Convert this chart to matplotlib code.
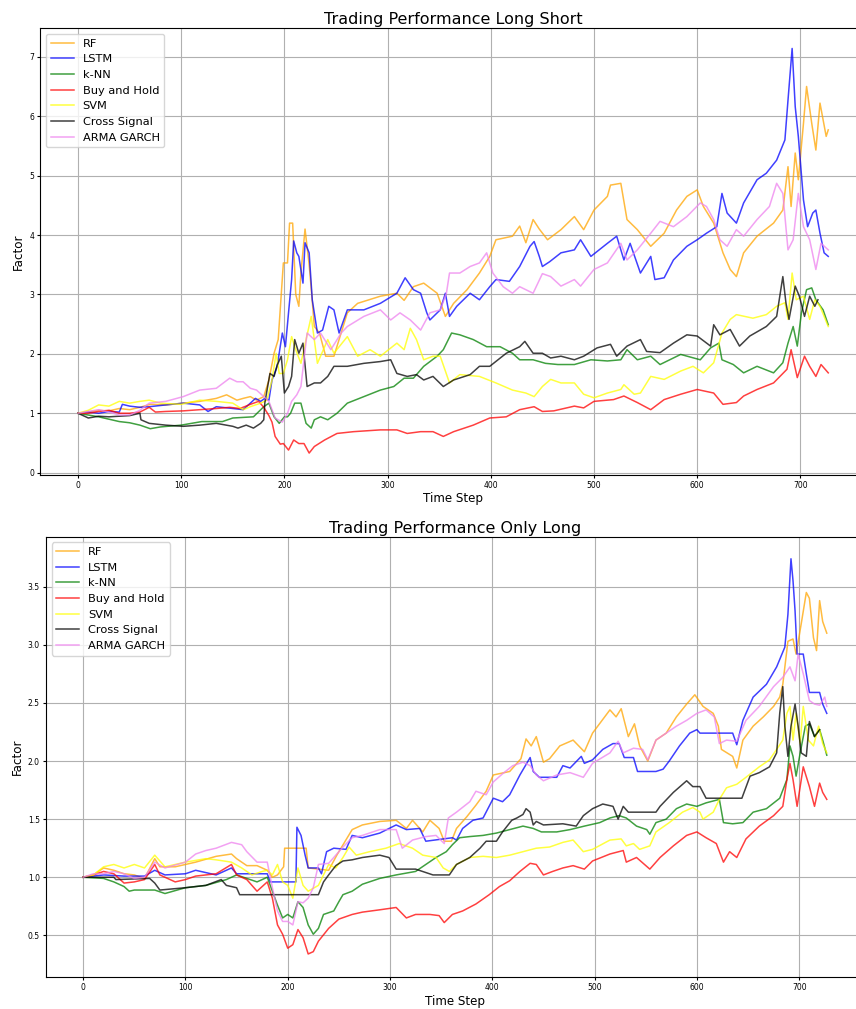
import numpy as np
import matplotlib
matplotlib.use("Agg")
import matplotlib.pyplot as plt

labels = ['RF', 'LSTM', 'k-NN', 'Buy and Hold', 'SVM', 'Cross Signal', 'ARMA GARCH']
colors = ['orange', 'blue', 'green', 'red', 'yellow', 'black', 'violet']

# (time step, factor) - Long Short panel
ls_rf = [(0, 1.0), (10, 1.02), (20, 1.05), (30, 1.04), (40, 1.08), (50, 1.06), (60, 1.1), (70, 1.15), (85, 1.14),
         (102, 1.17), (118, 1.2), (134, 1.25), (144, 1.31), (154, 1.22), (160, 1.25), (167, 1.28), (173, 1.22),
         (180, 1.28), (185, 1.56), (190, 2.01), (194, 2.24), (199, 3.53), (203, 3.53), (205, 4.2), (208, 4.2),
         (211, 3.0), (214, 2.8), (216, 3.36), (220, 4.1), (224, 3.5), (226, 3.1), (229, 2.46), (234, 2.35),
         (240, 1.96), (248, 1.96), (253, 2.24), (261, 2.69), (271, 2.85), (293, 2.97), (309, 3.02), (316, 2.9),
         (325, 3.13), (335, 3.19), (348, 3.02), (356, 2.63), (364, 2.85), (377, 3.08), (389, 3.36), (399, 3.64),
         (405, 3.92), (421, 3.98), (428, 4.15), (434, 3.87), (441, 4.26), (447, 4.1), (455, 3.92), (468, 4.09),
         (481, 4.31), (490, 4.09), (500, 4.42), (513, 4.65), (516, 4.84), (526, 4.87), (532, 4.26), (542, 4.09),
         (555, 3.81), (568, 4.03), (580, 4.42), (590, 4.65), (600, 4.76), (606, 4.48), (616, 4.2), (625, 3.7),
         (632, 3.42), (638, 3.3), (645, 3.7), (658, 3.98), (674, 4.2), (683, 4.42), (688, 5.15), (691, 4.48),
         (695, 5.38), (698, 4.93), (703, 5.88), (706, 6.5), (711, 5.88), (715, 5.43), (719, 6.22), (722, 5.94),
         (725, 5.66), (727, 5.77)]
ls_lstm = [(0, 1.0), (10, 1.02), (20, 1.0), (30, 1.03), (40, 1.02), (43, 1.15), (50, 1.12), (60, 1.1), (69, 1.11),
           (85, 1.14), (102, 1.17), (118, 1.14), (126, 1.03), (134, 1.11), (150, 1.08), (160, 1.06), (167, 1.17),
           (172, 1.25), (177, 1.2), (181, 1.25), (185, 1.22), (188, 1.56), (193, 1.79), (198, 2.35), (201, 2.12),
           (204, 2.69), (207, 3.25), (209, 3.9), (212, 3.7), (214, 3.64), (218, 3.19), (220, 3.87), (224, 3.7),
           (227, 2.91), (232, 2.35), (237, 2.4), (243, 2.8), (248, 2.74), (253, 2.35), (261, 2.74), (277, 2.74),
           (293, 2.85), (309, 3.02), (317, 3.28), (325, 3.08), (332, 3.02), (338, 2.69), (341, 2.57), (351, 2.74),
           (356, 3.02), (360, 2.63), (367, 2.8), (380, 3.02), (389, 2.91), (399, 3.13), (405, 3.25), (418, 3.22),
           (428, 3.47), (438, 3.81), (442, 3.89), (447, 3.64), (450, 3.47), (457, 3.55), (468, 3.7), (481, 3.75),
           (487, 3.92), (497, 3.64), (513, 3.86), (522, 3.98), (529, 3.58), (535, 3.86), (545, 3.36), (555, 3.64),
           (559, 3.25), (568, 3.28), (577, 3.58), (590, 3.81), (600, 3.92), (609, 4.03), (619, 4.14), (624, 4.7),
           (629, 4.37), (638, 4.2), (645, 4.54), (658, 4.93), (667, 5.04), (677, 5.26), (685, 5.6), (688, 6.27),
           (692, 7.14), (695, 6.16), (698, 5.66), (703, 4.59), (707, 4.14), (712, 4.37), (715, 4.42), (719, 4.03),
           (723, 3.7), (727, 3.64)]
ls_knn = [(0, 1.0), (10, 0.97), (20, 0.94), (30, 0.9), (40, 0.86), (50, 0.84), (60, 0.8), (70, 0.74), (80, 0.77),
          (100, 0.8), (120, 0.86), (140, 0.86), (150, 0.92), (170, 0.94), (180, 1.11), (185, 1.17), (190, 0.94),
          (195, 0.83), (200, 0.94), (203, 0.94), (206, 1.0), (210, 1.17), (216, 1.17), (221, 0.83), (226, 0.75),
          (229, 0.89), (235, 0.94), (242, 0.89), (251, 1.0), (261, 1.17), (277, 1.28), (293, 1.39), (306, 1.45),
          (316, 1.59), (325, 1.59), (335, 1.79), (348, 1.96), (354, 2.07), (362, 2.35), (370, 2.32), (383, 2.24),
          (396, 2.12), (409, 2.12), (421, 2.01), (428, 1.9), (441, 1.9), (453, 1.84), (465, 1.82), (481, 1.82),
          (497, 1.9), (513, 1.88), (526, 1.9), (532, 2.07), (542, 1.9), (555, 1.96), (564, 1.82), (584, 1.99),
          (603, 1.9), (613, 2.1), (621, 2.18), (624, 1.9), (635, 1.82), (645, 1.68), (658, 1.79), (674, 1.68),
          (683, 1.85), (688, 2.18), (693, 2.46), (697, 2.13), (701, 2.69), (706, 3.08), (711, 3.11), (715, 2.91),
          (722, 2.74), (727, 2.49)]
ls_bh = [(0, 1.0), (10, 1.0), (20, 1.03), (30, 1.05), (40, 1.0), (50, 1.0), (60, 1.02), (69, 1.1), (75, 1.02),
         (85, 1.03), (102, 1.04), (118, 1.06), (134, 1.08), (147, 1.1), (157, 1.08), (167, 1.15), (175, 1.2),
         (180, 1.1), (185, 0.96), (188, 0.85), (191, 0.61), (196, 0.48), (199, 0.49), (204, 0.38), (209, 0.55),
         (214, 0.49), (219, 0.49), (224, 0.33), (229, 0.44), (239, 0.55), (251, 0.66), (267, 0.69), (293, 0.72),
         (309, 0.72), (319, 0.66), (332, 0.69), (344, 0.69), (354, 0.61), (364, 0.69), (383, 0.8), (399, 0.92),
         (415, 0.94), (428, 1.06), (442, 1.11), (450, 1.03), (461, 1.04), (481, 1.12), (490, 1.09), (500, 1.2),
         (519, 1.23), (529, 1.29), (542, 1.18), (555, 1.06), (568, 1.23), (584, 1.32), (600, 1.4), (616, 1.34),
         (625, 1.15), (638, 1.18), (645, 1.29), (658, 1.4), (674, 1.51), (687, 1.74), (691, 2.07), (697, 1.6),
         (704, 1.96), (709, 1.79), (715, 1.62), (720, 1.82), (727, 1.68)]
ls_svm = [(0, 1.0), (10, 1.05), (20, 1.14), (30, 1.12), (40, 1.2), (50, 1.17), (60, 1.2), (69, 1.22), (80, 1.17),
          (100, 1.15), (118, 1.22), (134, 1.2), (150, 1.17), (160, 1.06), (167, 1.11), (177, 1.17), (183, 1.22),
          (188, 1.56), (192, 2.01), (195, 1.67), (199, 1.67), (203, 1.9), (207, 2.29), (211, 2.07), (216, 1.84),
          (221, 2.24), (226, 2.63), (232, 1.84), (242, 2.24), (248, 2.01), (261, 2.29), (271, 1.96), (283, 2.07),
          (293, 1.96), (309, 2.18), (316, 2.07), (322, 2.43), (328, 2.24), (335, 1.9), (344, 1.96), (351, 1.96),
          (360, 1.51), (370, 1.65), (389, 1.62), (405, 1.51), (421, 1.39), (434, 1.34), (442, 1.28), (450, 1.45),
          (458, 1.57), (468, 1.51), (481, 1.51), (490, 1.32), (500, 1.26), (513, 1.34), (526, 1.4), (529, 1.48),
          (539, 1.32), (545, 1.34), (555, 1.62), (568, 1.57), (584, 1.71), (596, 1.79), (606, 1.68), (616, 1.85),
          (624, 2.35), (632, 2.58), (638, 2.66), (654, 2.6), (667, 2.66), (677, 2.8), (685, 2.86), (688, 2.58),
          (692, 3.36), (696, 2.91), (703, 2.97), (709, 2.58), (714, 2.91), (719, 2.8), (727, 2.46)]
ls_cross = [(0, 1.0), (10, 0.92), (20, 0.95), (30, 0.94), (50, 0.96), (60, 1.0), (61, 0.89), (69, 0.83), (85, 0.8),
            (102, 0.78), (118, 0.8), (134, 0.83), (150, 0.78), (155, 0.75), (163, 0.8), (170, 0.75), (177, 0.83),
            (180, 0.89), (181, 1.17), (186, 1.67), (190, 1.62), (193, 1.81), (197, 1.96), (200, 1.34), (204, 1.45),
            (207, 1.62), (210, 2.24), (214, 2.01), (218, 2.18), (222, 1.45), (229, 1.51), (235, 1.51), (242, 1.62),
            (248, 1.79), (261, 1.79), (277, 1.84), (293, 1.87), (303, 1.9), (309, 1.67), (319, 1.62), (328, 1.65),
            (335, 1.56), (344, 1.62), (354, 1.45), (364, 1.56), (380, 1.65), (389, 1.79), (399, 1.79), (415, 2.01),
            (428, 2.12), (433, 2.21), (441, 2.01), (450, 2.01), (458, 1.93), (468, 1.96), (481, 1.9), (490, 1.96),
            (503, 2.1), (516, 2.16), (522, 1.96), (532, 2.13), (545, 2.24), (551, 2.04), (564, 2.02), (577, 2.18),
            (590, 2.32), (600, 2.3), (613, 2.13), (616, 2.49), (622, 2.32), (632, 2.41), (641, 2.13), (651, 2.3),
            (667, 2.46), (677, 2.63), (683, 3.3), (686, 2.86), (689, 2.58), (695, 3.14), (699, 2.97), (704, 2.63),
            (709, 2.97), (714, 2.8), (717, 2.91)]
ls_arma = [(0, 1.0), (10, 1.03), (20, 1.06), (30, 1.02), (40, 0.97), (50, 0.97), (60, 1.05), (69, 1.17), (85, 1.2),
           (102, 1.28), (118, 1.39), (134, 1.42), (147, 1.59), (154, 1.53), (160, 1.53), (167, 1.42), (173, 1.39),
           (180, 1.28), (185, 1.2), (188, 1.06), (191, 0.92), (198, 0.85), (203, 1.0), (207, 1.2), (212, 1.31),
           (216, 1.45), (222, 2.35), (229, 2.24), (235, 2.35), (245, 2.07), (255, 2.35), (261, 2.46), (277, 2.63),
           (293, 2.74), (303, 2.57), (312, 2.69), (322, 2.57), (332, 2.4), (341, 2.69), (351, 2.74), (357, 3.02),
           (360, 3.36), (370, 3.36), (380, 3.47), (389, 3.53), (396, 3.7), (402, 3.36), (412, 3.13), (421, 3.02),
           (428, 3.13), (441, 3.02), (450, 3.35), (458, 3.3), (468, 3.14), (481, 3.25), (487, 3.14), (500, 3.42),
           (513, 3.53), (526, 3.86), (532, 3.58), (542, 3.75), (555, 4.03), (564, 4.23), (577, 4.14), (590, 4.31),
           (603, 4.54), (609, 4.48), (616, 4.26), (622, 3.92), (629, 3.81), (638, 4.09), (645, 3.98), (658, 4.26),
           (670, 4.48), (677, 4.87), (683, 4.7), (688, 3.75), (693, 3.92), (698, 4.7), (703, 4.14), (709, 3.92),
           (715, 3.42), (720, 3.86), (727, 3.75)]

# Only Long panel
ol_rf = [(0, 1.0), (10, 1.02), (20, 1.08), (30, 1.06), (40, 1.03), (50, 1.02), (60, 0.99), (70, 1.16), (75, 1.09),
         (90, 1.09), (110, 1.13), (130, 1.18), (145, 1.2), (150, 1.16), (160, 1.1), (170, 1.1), (180, 1.06),
         (185, 1.0), (190, 1.02), (196, 1.09), (197, 1.25), (218, 1.25), (220, 1.08), (240, 1.06), (248, 1.19),
         (250, 1.22), (263, 1.41), (273, 1.45), (290, 1.48), (306, 1.49), (316, 1.42), (322, 1.49), (332, 1.39),
         (339, 1.49), (348, 1.42), (353, 1.31), (360, 1.31), (365, 1.42), (375, 1.52), (384, 1.62), (394, 1.74),
         (401, 1.88), (417, 1.91), (428, 2.02), (433, 2.19), (438, 2.13), (443, 2.21), (450, 1.99), (456, 2.02),
         (466, 2.13), (479, 2.18), (490, 2.08), (498, 2.24), (515, 2.44), (521, 2.38), (526, 2.45), (533, 2.21),
         (539, 2.32), (544, 2.13), (552, 2.0), (560, 2.18), (570, 2.24), (580, 2.38), (590, 2.49), (598, 2.57),
         (606, 2.47), (616, 2.41), (621, 2.3), (624, 2.1), (635, 2.04), (639, 1.94), (645, 2.18), (655, 2.3),
         (665, 2.38), (675, 2.47), (681, 2.55), (684, 2.66), (689, 3.03), (694, 3.05), (697, 2.92), (702, 3.18),
         (707, 3.45), (710, 3.4), (714, 3.06), (717, 2.95), (720, 3.38), (723, 3.2), (727, 3.1)]
ol_lstm = [(0, 1.0), (20, 1.02), (40, 1.01), (60, 1.01), (70, 1.06), (80, 1.02), (100, 1.03), (110, 1.06),
           (130, 1.02), (145, 1.08), (150, 1.03), (180, 1.03), (183, 0.96), (208, 0.96), (209, 1.43), (213, 1.36),
           (217, 1.19), (220, 1.08), (230, 1.08), (233, 1.03), (238, 1.22), (245, 1.25), (257, 1.24), (263, 1.36),
           (273, 1.34), (290, 1.38), (306, 1.45), (316, 1.41), (329, 1.42), (335, 1.31), (361, 1.34), (365, 1.32),
           (371, 1.42), (381, 1.49), (391, 1.51), (401, 1.68), (410, 1.65), (417, 1.71), (427, 1.88), (437, 2.03),
           (440, 1.91), (446, 1.86), (463, 1.86), (469, 1.96), (476, 1.94), (487, 2.04), (490, 1.98), (498, 2.01),
           (508, 2.1), (518, 2.15), (524, 2.15), (529, 2.03), (538, 2.03), (542, 1.91), (560, 1.91), (567, 1.93),
           (573, 2.0), (583, 2.13), (593, 2.24), (600, 2.27), (603, 2.24), (635, 2.24), (639, 2.14), (645, 2.35),
           (655, 2.55), (668, 2.66), (678, 2.81), (686, 2.98), (689, 3.26), (692, 3.74), (694, 3.55), (696, 3.29),
           (698, 2.92), (704, 2.92), (707, 2.75), (710, 2.59), (720, 2.59), (723, 2.49), (727, 2.41)]
ol_knn = [(0, 1.0), (20, 0.99), (30, 0.96), (40, 0.92), (45, 0.88), (50, 0.89), (70, 0.89), (80, 0.86), (100, 0.91),
          (120, 0.93), (140, 0.98), (150, 1.02), (160, 0.99), (170, 0.96), (180, 1.0), (185, 0.88), (190, 0.76),
          (195, 0.65), (200, 0.68), (205, 0.65), (210, 0.79), (215, 0.74), (220, 0.59), (225, 0.51), (230, 0.56),
          (235, 0.68), (245, 0.71), (250, 0.79), (254, 0.85), (263, 0.88), (273, 0.94), (290, 0.99), (306, 1.02),
          (325, 1.05), (335, 1.11), (345, 1.17), (355, 1.22), (361, 1.28), (368, 1.34), (378, 1.35), (391, 1.36),
          (404, 1.38), (417, 1.41), (430, 1.44), (440, 1.42), (448, 1.39), (463, 1.39), (476, 1.41), (490, 1.44),
          (505, 1.47), (515, 1.51), (524, 1.53), (531, 1.51), (541, 1.44), (551, 1.41), (554, 1.37), (560, 1.47),
          (570, 1.5), (580, 1.59), (590, 1.63), (600, 1.61), (609, 1.64), (622, 1.67), (626, 1.47), (635, 1.46),
          (645, 1.47), (655, 1.56), (668, 1.59), (681, 1.68), (688, 1.84), (691, 2.13), (694, 2.04), (697, 1.87),
          (701, 2.07), (706, 2.3), (710, 2.32), (715, 2.21), (720, 2.27), (723, 2.18), (727, 2.05)]
ol_bh = [(0, 1.0), (10, 1.02), (20, 1.05), (30, 1.03), (40, 0.95), (50, 0.96), (60, 0.98), (70, 1.11), (75, 1.02),
         (90, 0.96), (100, 0.98), (110, 1.01), (130, 1.03), (145, 1.11), (150, 1.02), (160, 0.98), (170, 0.88),
         (180, 0.96), (185, 0.82), (190, 0.59), (195, 0.51), (200, 0.39), (205, 0.42), (210, 0.55), (215, 0.48),
         (220, 0.34), (225, 0.36), (230, 0.45), (240, 0.56), (250, 0.64), (263, 0.68), (273, 0.7), (290, 0.72),
         (306, 0.74), (316, 0.65), (325, 0.68), (339, 0.68), (348, 0.67), (353, 0.61), (361, 0.68), (371, 0.71),
         (384, 0.77), (397, 0.85), (407, 0.92), (417, 0.97), (427, 1.05), (437, 1.12), (443, 1.11), (450, 1.02),
         (459, 1.05), (469, 1.08), (479, 1.1), (490, 1.07), (498, 1.14), (515, 1.2), (528, 1.23), (531, 1.13),
         (541, 1.17), (554, 1.07), (564, 1.17), (577, 1.27), (590, 1.36), (600, 1.39), (609, 1.34), (619, 1.29),
         (626, 1.13), (632, 1.22), (639, 1.17), (648, 1.33), (661, 1.44), (675, 1.53), (684, 1.61), (688, 1.84),
         (691, 1.98), (694, 1.84), (698, 1.61), (704, 1.95), (710, 1.78), (715, 1.61), (720, 1.81), (723, 1.73),
         (727, 1.67)]
ol_svm = [(0, 1.0), (10, 1.02), (20, 1.09), (30, 1.11), (40, 1.08), (50, 1.11), (60, 1.08), (70, 1.19), (80, 1.09),
          (100, 1.13), (120, 1.16), (130, 1.15), (145, 1.13), (155, 1.08), (165, 1.02), (175, 1.05), (180, 1.06),
          (185, 1.02), (190, 1.11), (195, 0.96), (200, 0.93), (205, 0.82), (210, 1.08), (215, 0.93), (220, 0.88),
          (230, 0.93), (240, 1.11), (247, 1.08), (254, 1.17), (260, 1.26), (267, 1.19), (280, 1.22), (296, 1.25),
          (309, 1.29), (322, 1.25), (332, 1.19), (345, 1.17), (352, 1.08), (358, 1.05), (365, 1.11), (378, 1.17),
          (391, 1.18), (404, 1.17), (417, 1.19), (430, 1.22), (443, 1.25), (456, 1.26), (469, 1.3), (479, 1.32),
          (489, 1.22), (498, 1.24), (515, 1.32), (526, 1.33), (531, 1.27), (538, 1.29), (544, 1.24), (554, 1.27),
          (560, 1.39), (573, 1.47), (586, 1.56), (596, 1.6), (603, 1.56), (606, 1.5), (616, 1.56), (622, 1.67),
          (629, 1.77), (639, 1.8), (648, 1.86), (661, 1.95), (671, 2.01), (678, 2.1), (684, 2.18), (688, 2.41),
          (691, 2.47), (694, 2.18), (697, 2.41), (701, 2.15), (704, 2.47), (709, 2.18), (714, 2.13), (719, 2.3),
          (723, 2.15), (727, 2.07)]
ol_cross = [(0, 1.0), (30, 1.0), (32, 0.98), (65, 0.99), (70, 0.95), (75, 0.89), (100, 0.91), (110, 0.92),
            (120, 0.93), (135, 0.98), (140, 0.93), (150, 0.91), (153, 0.85), (230, 0.85), (235, 0.96), (240, 1.02),
            (247, 1.1), (254, 1.14), (263, 1.15), (273, 1.17), (290, 1.19), (299, 1.17), (306, 1.07), (325, 1.07),
            (342, 1.02), (358, 1.02), (365, 1.11), (378, 1.17), (388, 1.25), (394, 1.31), (404, 1.31), (410, 1.39),
            (419, 1.49), (424, 1.51), (430, 1.54), (433, 1.59), (437, 1.56), (440, 1.45), (443, 1.48), (450, 1.45),
            (469, 1.46), (482, 1.44), (489, 1.53), (498, 1.59), (508, 1.63), (518, 1.61), (523, 1.5), (528, 1.61),
            (533, 1.56), (560, 1.56), (564, 1.61), (577, 1.73), (590, 1.83), (596, 1.78), (603, 1.78), (609, 1.68),
            (644, 1.68), (652, 1.87), (661, 1.9), (671, 1.95), (678, 2.07), (681, 2.41), (684, 2.64), (686, 2.3),
            (689, 2.04), (692, 2.3), (696, 2.49), (699, 2.3), (702, 2.07), (707, 2.04), (710, 2.34), (715, 2.21),
            (720, 2.27)]
ol_arma = [(0, 1.0), (10, 1.03), (20, 1.03), (30, 1.05), (40, 1.03), (50, 0.99), (60, 1.0), (70, 1.13), (80, 1.08),
           (100, 1.13), (110, 1.2), (120, 1.23), (130, 1.25), (145, 1.3), (155, 1.28), (160, 1.22), (170, 1.13),
           (180, 1.13), (185, 0.91), (190, 0.71), (195, 0.62), (200, 0.62), (205, 0.59), (210, 0.79), (215, 0.78),
           (220, 0.82), (225, 0.91), (230, 1.11), (240, 1.12), (247, 1.19), (254, 1.26), (263, 1.34), (273, 1.36),
           (290, 1.41), (306, 1.41), (312, 1.25), (322, 1.32), (335, 1.35), (345, 1.36), (353, 1.29), (357, 1.51),
           (365, 1.56), (378, 1.65), (384, 1.74), (394, 1.71), (401, 1.82), (410, 1.89), (420, 1.96), (430, 1.99),
           (437, 1.96), (443, 1.88), (450, 1.83), (463, 1.88), (476, 1.9), (489, 1.86), (498, 1.98), (515, 2.07),
           (523, 2.17), (528, 2.07), (538, 2.11), (547, 2.1), (552, 2.01), (560, 2.18), (570, 2.24), (580, 2.3),
           (590, 2.35), (600, 2.41), (609, 2.44), (617, 2.38), (622, 2.15), (629, 2.18), (639, 2.17), (648, 2.35),
           (661, 2.47), (675, 2.64), (684, 2.72), (691, 2.81), (696, 2.69), (699, 2.92), (704, 2.75), (710, 2.52),
           (715, 2.49), (720, 2.48), (725, 2.55), (727, 2.47)]


def plot_panel(ax, title, series, yticks, ylim):
    for data, label, color in zip(series, labels, colors):
        arr = np.array(data)
        ax.plot(arr[:, 0], arr[:, 1], color=color, alpha=0.75, linewidth=1.1, label=label)
    ax.set_title(title, fontsize=11.5, pad=3)
    ax.set_xlabel('Time Step', fontsize=8.6, labelpad=1.5)
    ax.set_ylabel('Factor', fontsize=8.6, labelpad=3)
    ax.set_xlim(-36.35, 763.35)
    ax.set_ylim(*ylim)
    ax.set_xticks([0, 100, 200, 300, 400, 500, 600, 700])
    ax.set_yticks(yticks)
    ax.tick_params(labelsize=5.5, length=2.5, pad=2)
    ax.grid(True)
    ax.legend(loc='upper left', fontsize=8.2)


fig = plt.figure(figsize=(8.56, 10.09), dpi=100)
ax1 = fig.add_axes([0.0473, 0.5292, 0.9641, 0.4428])
ax2 = fig.add_axes([0.0537, 0.0315, 0.9556, 0.4366])

plot_panel(ax1, 'Trading Performance Long Short',
           [ls_rf, ls_lstm, ls_knn, ls_bh, ls_svm, ls_cross, ls_arma],
           [0, 1, 2, 3, 4, 5, 6, 7], (-0.04, 7.48))
plot_panel(ax2, 'Trading Performance Only Long',
           [ol_rf, ol_lstm, ol_knn, ol_bh, ol_svm, ol_cross, ol_arma],
           [0.5, 1.0, 1.5, 2.0, 2.5, 3.0, 3.5], (0.14, 3.93))

fig.savefig('out.png', dpi=100)
